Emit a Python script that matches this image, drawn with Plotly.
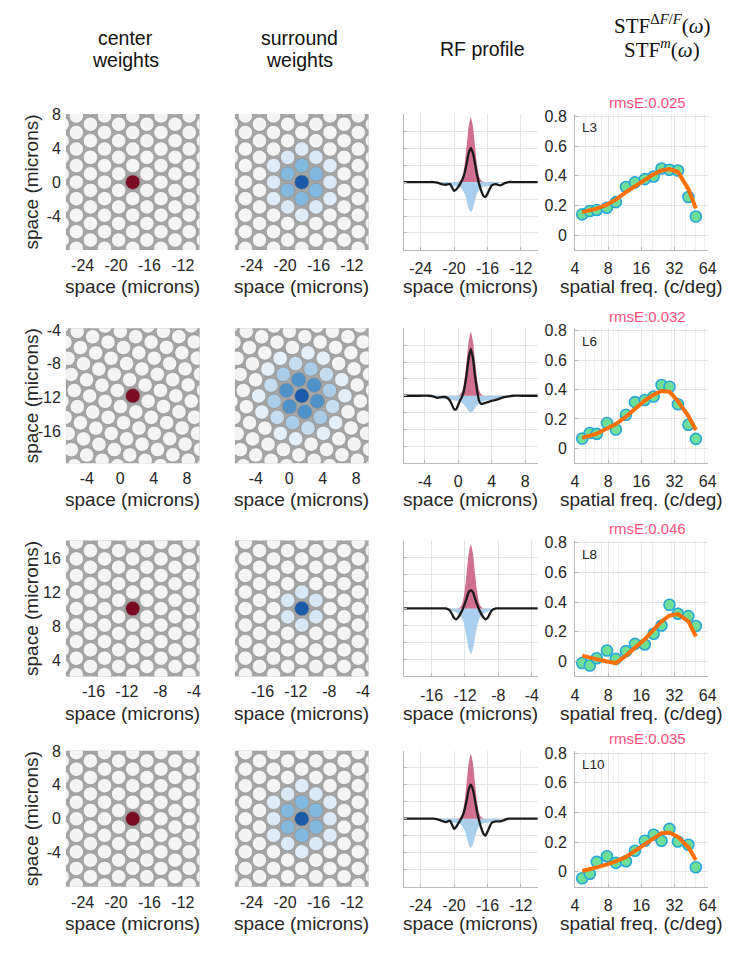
import math
import plotly.graph_objects as go

W, H = 755, 962
FONT = "Liberation Sans, Arial, Helvetica, sans-serif"
SERIF = "Liberation Serif, DejaVu Serif, serif"
TXT = "#262626"

# ------------------------------------------------------------------ data
row_labels = ["L3", "L6", "L8", "L10"]
rmse_text = ["0.025", "0.032", "0.046", "0.035"]

# cone of interest (microns) per row
cone_x = [-18.0, 1.5, -11.3, -18.0]
cone_y = [0.0, -11.8, 10.1, 0.0]
space_xticks = [[-24, -20, -16, -12], [-4, 0, 4, 8], [-16, -12, -8, -4], [-24, -20, -16, -12]]
space_yticks = [[-4, 0, 4, 8], [-16, -12, -8, -4], [4, 8, 12, 16], [-4, 0, 4, 8]]
half_width = 8.0

# mosaic description
cone_spacing = 1.95
lattice_rotation_deg = [0, 11, 0, 0]
ring_dist = [0, 1, 1.732, 2, 2.646]
surround_ring_weight = [
    [1.0, 0.55, 0.12, 0.10, 0.0],
    [1.0, 0.78, 0.38, 0.24, 0.07],
    [1.0, 0.14, 0.0, 0.0, 0.0],
    [1.0, 0.55, 0.12, 0.10, 0.0],
]

# RF profiles (offset from cone centre, microns)
rf_dx = [-9, -6, -5, -4.5, -4, -3.5, -3, -2.5, -2, -1.75, -1.5, -1.25, -1, -0.75, -0.5, -0.25, 0,
         0.25, 0.5, 0.75, 1, 1.25, 1.5, 1.75, 2, 2.5, 3, 3.5, 4, 4.5, 5, 6, 9]
rf_center = [
    [0, 0, 0, 0, 0, 0, 0, 0, 0, 0, 0.004, 0.02, 0.08, 0.25, 0.53, 0.82, 0.95, 0.82, 0.53, 0.25, 0.08, 0.02, 0.004, 0, 0, 0, 0, 0, 0, 0, 0, 0, 0],
    [0, 0, 0, 0, 0, 0, 0, 0, 0, 0, 0.004, 0.02, 0.08, 0.25, 0.52, 0.81, 0.945, 0.81, 0.52, 0.25, 0.08, 0.02, 0.004, 0, 0, 0, 0, 0, 0, 0, 0, 0, 0],
    [0, 0, 0, 0, 0, 0, 0, 0, 0, 0, 0.004, 0.02, 0.08, 0.25, 0.52, 0.81, 0.94, 0.81, 0.52, 0.25, 0.08, 0.02, 0.004, 0, 0, 0, 0, 0, 0, 0, 0, 0, 0],
    [0, 0, 0, 0, 0, 0, 0, 0, 0, 0, 0.004, 0.02, 0.08, 0.25, 0.53, 0.82, 0.95, 0.82, 0.53, 0.25, 0.08, 0.02, 0.004, 0, 0, 0, 0, 0, 0, 0, 0, 0, 0],
]
rf_surround = [
    [0, 0, 0, 0, 0, -0.01, -0.03, -0.05, -0.06, -0.065, -0.07, -0.08, -0.11, -0.17, -0.27, -0.39, -0.44, -0.39, -0.27, -0.17, -0.11, -0.08, -0.07, -0.065, -0.06, -0.05, -0.03, -0.01, 0, 0, 0, 0, 0],
    [0, 0, -0.01, -0.02, -0.03, -0.04, -0.05, -0.06, -0.07, -0.075, -0.08, -0.09, -0.11, -0.14, -0.18, -0.23, -0.25, -0.23, -0.18, -0.14, -0.11, -0.09, -0.08, -0.075, -0.07, -0.06, -0.05, -0.04, -0.03, -0.02, -0.01, 0, 0],
    [0, 0, 0, 0, 0, 0, 0, -0.02, -0.05, -0.06, -0.08, -0.11, -0.16, -0.27, -0.43, -0.60, -0.67, -0.60, -0.43, -0.27, -0.16, -0.11, -0.08, -0.06, -0.05, -0.02, 0, 0, 0, 0, 0, 0, 0],
    [0, 0, 0, 0, 0, -0.01, -0.03, -0.05, -0.06, -0.065, -0.07, -0.08, -0.11, -0.17, -0.27, -0.38, -0.43, -0.38, -0.27, -0.17, -0.11, -0.08, -0.07, -0.065, -0.06, -0.05, -0.03, -0.01, 0, 0, 0, 0, 0],
]
rf_total = [
    [0, 0, 0, 0, -0.01, -0.03, -0.04, -0.03, -0.13, -0.11, -0.07, -0.02, 0.04, 0.13, 0.27, 0.43, 0.50, 0.43, 0.27, 0.10, -0.03, -0.13, -0.20, -0.22, -0.17, -0.05, -0.03, -0.05, -0.02, 0, 0, 0, 0],
    [0, 0, 0, -0.01, -0.03, -0.02, -0.02, -0.07, -0.20, -0.20, -0.13, -0.06, 0.0, 0.12, 0.32, 0.56, 0.69, 0.56, 0.30, 0.08, -0.08, -0.12, -0.115, -0.105, -0.095, -0.075, -0.06, -0.04, -0.02, -0.01, 0, 0, 0],
    [0, 0, 0, 0, 0, 0, 0, -0.03, -0.14, -0.16, -0.13, -0.08, -0.02, 0.06, 0.15, 0.24, 0.27, 0.24, 0.15, 0.06, -0.02, -0.08, -0.13, -0.16, -0.14, -0.03, 0, 0, 0, 0, 0, 0, 0],
    [0, 0, 0, 0, -0.01, -0.03, -0.05, -0.03, -0.15, -0.12, -0.07, -0.02, 0.04, 0.13, 0.27, 0.43, 0.50, 0.43, 0.27, 0.10, -0.03, -0.14, -0.22, -0.25, -0.19, -0.06, -0.04, -0.04, -0.02, 0, 0, 0, 0],
]

# spatial transfer functions
stf_freq = [4.65, 5.45, 6.3, 7.8, 9.4, 11.6, 14.0, 17.2, 20.7, 24.4, 28.8, 34.4, 42.8, 50.0]
stf_meas = [
    [0.14, 0.162, 0.169, 0.184, 0.222, 0.324, 0.355, 0.377, 0.395, 0.449, 0.44, 0.435, 0.257, 0.125],
    [0.067, 0.105, 0.099, 0.173, 0.128, 0.229, 0.314, 0.329, 0.352, 0.43, 0.419, 0.30, 0.161, 0.065],
    [-0.01, -0.027, 0.022, 0.074, 0.018, 0.07, 0.119, 0.115, 0.187, 0.243, 0.382, 0.322, 0.306, 0.239],
    [-0.044, -0.013, 0.067, 0.105, 0.06, 0.071, 0.142, 0.209, 0.249, 0.209, 0.289, 0.204, 0.182, 0.031],
]
stf_err = [
    [0.012, 0.012, 0.012, 0.012, 0.012, 0.012, 0.012, 0.012, 0.012, 0.012, 0.012, 0.012, 0.015, 0.015],
    [0.025, 0.025, 0.02, 0.03, 0.025, 0.025, 0.025, 0.025, 0.025, 0.025, 0.03, 0.03, 0.03, 0.03],
    [0.03, 0.03, 0.03, 0.035, 0.03, 0.03, 0.03, 0.03, 0.035, 0.035, 0.04, 0.04, 0.04, 0.04],
    [0.025, 0.025, 0.03, 0.03, 0.03, 0.03, 0.03, 0.03, 0.03, 0.03, 0.03, 0.03, 0.03, 0.035],
]
stf_model = [
    [0.155, 0.165, 0.178, 0.205, 0.24, 0.29, 0.33, 0.375, 0.41, 0.435, 0.445, 0.425, 0.31, 0.18],
    [0.072, 0.085, 0.10, 0.135, 0.165, 0.215, 0.27, 0.325, 0.365, 0.39, 0.385, 0.32, 0.22, 0.125],
    [0.04, 0.03, 0.015, 0.0, -0.01, 0.04, 0.09, 0.15, 0.215, 0.27, 0.31, 0.32, 0.27, 0.17],
    [0.005, 0.015, 0.03, 0.05, 0.07, 0.10, 0.14, 0.185, 0.23, 0.26, 0.265, 0.235, 0.165, 0.08],
]
stf_xticks = [4, 8, 16, 32, 64]
stf_yticks = [0, 0.2, 0.4, 0.6, 0.8]

# ------------------------------------------------------------------ layout geometry (px)
col_px = [(63, 199), (235, 371), (407, 543), (581, 716)]
row_px = [(107, 244), (323, 459), (537, 674), (749, 886)]


def xdom(c):
    a, b = col_px[c]
    return [a / W, b / W]


def ydom(r):
    t, b = row_px[r]
    return [1 - b / H, 1 - t / H]


def py(v):
    return 1 - v / H


def lbl(v):
    return str(v).replace("\u2212", "-")


fig = go.Figure()
layout = dict(width=W, height=H, margin=dict(l=0, r=0, t=0, b=0), autosize=False,
              paper_bgcolor="white", plot_bgcolor="white", showlegend=False,
              font=dict(family=FONT, color=TXT, size=16))
shapes = []
annotations = []

blues = [[0.0, "#f4f4f4"], [0.05, "#e8f1f9"], [0.15, "#d5e6f4"], [0.35, "#b0d1ea"],
         [0.55, "#82b8de"], [0.78, "#4f92c9"], [1.0, "#1b5aa8"]]


def lattice(r):
    d = cone_spacing
    th = math.radians(lattice_rotation_deg[r])
    pts = []
    for i in range(-9, 10):
        for j in range(-9, 10):
            px_ = j * d * math.sqrt(3) / 2
            py_ = i * d + j * d / 2
            rx = px_ * math.cos(th) - py_ * math.sin(th)
            ry = px_ * math.sin(th) + py_ * math.cos(th)
            if abs(rx) < half_width + 1.2 and abs(ry) < half_width + 1.2:
                pts.append((rx, ry))
    return pts


def ring_weight(r, dist):
    for rd, w in zip(ring_dist, surround_ring_weight[r]):
        if abs(dist - rd) < 0.12:
            return w
    return 0.0


def note(text, x, y, size, color=TXT, family=FONT, **kw):
    annotations.append(dict(text=text, xref="paper", yref="paper", x=x / W, y=py(y),
                            xanchor="center", yanchor="middle", showarrow=False,
                            font=dict(size=size, color=color, family=family), **kw))


for r in range(4):
    cx, cy = cone_x[r], cone_y[r]
    for c in range(4):
        idx = r * 4 + c + 1
        xa = "xaxis" if idx == 1 else f"xaxis{idx}"
        ya = "yaxis" if idx == 1 else f"yaxis{idx}"
        xr = "x" if idx == 1 else f"x{idx}"
        yr = "y" if idx == 1 else f"y{idx}"
        base_x = dict(domain=xdom(c), anchor=yr, zeroline=False, showgrid=False,
                      tickfont=dict(size=16, color=TXT, family=FONT), ticklabelstandoff=4)
        base_y = dict(domain=ydom(r), anchor=xr, zeroline=False, showgrid=False,
                      tickfont=dict(size=16, color=TXT, family=FONT))
        if c < 2:
            pts = lattice(r)
            xs = [cx + p[0] for p in pts]
            ys = [cy + p[1] for p in pts]
            if c == 0:
                cols = ["#7a0b22" if (abs(p[0]) < 1e-6 and abs(p[1]) < 1e-6) else "#f4f4f4" for p in pts]
                marker = dict(size=14.5, color=cols, line=dict(color="#8f8f8f", width=0.7))
            else:
                w = [ring_weight(r, math.hypot(p[0], p[1]) / cone_spacing) for p in pts]
                marker = dict(size=14.5, color=w, colorscale=blues, cmin=0, cmax=1,
                              line=dict(color="#8f8f8f", width=0.7))
            fig.add_trace(go.Scatter(x=xs, y=ys, mode="markers", marker=marker,
                                     xaxis=xr, yaxis=yr, hoverinfo="skip"))
            shapes.append(dict(type="rect", xref=f"{xr} domain", yref=f"{yr} domain",
                               x0=0, x1=1, y0=0, y1=1, fillcolor="#a6a6a6",
                               line=dict(width=0), layer="below"))
            layout[xa] = dict(base_x, range=[cx - half_width, cx + half_width],
                              tickvals=space_xticks[r], ticktext=[lbl(v) for v in space_xticks[r]],
                              ticks="", showline=False)
            layout[ya] = dict(base_y, range=[cy - half_width, cy + half_width + 0.02],
                              tickvals=space_yticks[r], ticktext=[lbl(v) for v in space_yticks[r]],
                              ticks="", showline=False,
                              showticklabels=(c == 0), ticklabelstandoff=4)
        elif c == 2:
            xs = [cx + d for d in rf_dx]
            fig.add_trace(go.Scatter(x=xs, y=rf_surround[r], mode="lines", fill="tozeroy",
                                     fillcolor="#a9cfec", line=dict(width=0, shape="spline", smoothing=0.6),
                                     xaxis=xr, yaxis=yr, hoverinfo="skip"))
            fig.add_trace(go.Scatter(x=xs, y=rf_center[r], mode="lines", fill="tozeroy",
                                     fillcolor="#d16f8f", line=dict(width=0, shape="spline", smoothing=0.6),
                                     xaxis=xr, yaxis=yr, hoverinfo="skip"))
            fig.add_trace(go.Scatter(x=xs, y=rf_total[r], mode="lines",
                                     line=dict(width=2.3, color="#1a1a1a", shape="spline", smoothing=0.6),
                                     xaxis=xr, yaxis=yr, hoverinfo="skip"))
            layout[xa] = dict(base_x, range=[cx - half_width, cx + half_width],
                              tickvals=space_xticks[r], ticktext=[lbl(v) for v in space_xticks[r]],
                              showgrid=True, gridcolor="#e4e4e4",
                              showline=True, linecolor="#b8b8b8", ticks="inside", ticklen=3,
                              tickcolor="#b8b8b8")
            layout[ya] = dict(base_y, range=[-1, 1], tickvals=[-1, -0.75, -0.5, -0.25, 0, 0.25, 0.5, 0.75, 1],
                              showticklabels=False, showgrid=True, gridcolor="#e4e4e4",
                              showline=True, linecolor="#b8b8b8", ticks="inside", ticklen=3,
                              tickcolor="#b8b8b8")
        else:
            fig.add_trace(go.Scatter(x=stf_freq, y=stf_meas[r], mode="markers",
                                     marker=dict(size=11, color="#6fdf98",
                                                 line=dict(color="#27a6d8", width=1.6)),
                                     error_y=dict(type="data", array=stf_err[r], color="#111111",
                                                  thickness=1.6, width=0),
                                     xaxis=xr, yaxis=yr, hoverinfo="skip"))
            fig.add_trace(go.Scatter(x=stf_freq, y=stf_model[r], mode="lines",
                                     line=dict(color="#ff6f00", width=4),
                                     xaxis=xr, yaxis=yr, hoverinfo="skip"))
            layout[xa] = dict(base_x, type="log", range=[math.log10(4), math.log10(64)],
                              tickvals=stf_xticks, ticktext=[str(v) for v in stf_xticks],
                              showgrid=True, gridcolor="#e4e4e4", showline=True,
                              linecolor="#b8b8b8", ticks="inside", ticklen=3, tickcolor="#b8b8b8",
                              minor=dict(tickvals=[5, 6, 7, 9, 10, 20, 30, 40, 50, 60],
                                         showgrid=True, gridcolor="#efefef", ticks=""))
            layout[ya] = dict(base_y, range=[-0.1, 0.815], tickvals=stf_yticks,
                              ticktext=["0", "0.2", "0.4", "0.6", "0.8"], showgrid=True,
                              gridcolor="#e4e4e4", showline=True, linecolor="#b8b8b8",
                              ticks="inside", ticklen=3, tickcolor="#b8b8b8", ticklabelstandoff=4)
            annotations.append(dict(text=row_labels[r], xref=f"{xr} domain", yref=f"{yr} domain",
                                    x=0.04, y=0.9, xanchor="left", yanchor="middle",
                                    showarrow=False, font=dict(size=13.5, color=TXT, family=FONT)))
            note(f"rmsE:{rmse_text[r]}", 655, row_px[r][0] - 12, 15, color="#ff4f7c")
        # axis titles
        xt = "spatial freq. (c/deg)" if c == 3 else "space (microns)"
        xc = (col_px[c][0] + col_px[c][1]) / 2
        note(xt, xc, row_px[r][1] + 37, 19)
    note("space (microns)", 28, (row_px[r][0] + row_px[r][1]) / 2, 19, textangle=-90)

# column headers
note("center", 124, 30, 19.5, color="#111111")
note("weights", 124, 52, 19.5, color="#111111")
note("surround", 301, 30, 19.5, color="#111111")
note("weights", 301, 52, 19.5, color="#111111")
note("RF profile", 487, 41, 19.5, color="#111111")
note("STF<sup>\u0394<i>F</i>/<i>F</i></sup>(<i>\u03c9</i>)", 670, 17, 21, color="#111111", family=SERIF)
note("STF<sup><i>m</i></sup>(<i>\u03c9</i>)", 670, 41, 21, color="#111111", family=SERIF)

layout["shapes"] = shapes
layout["annotations"] = annotations
fig.update_layout(**layout)
fig.write_html("out.html", config={"displayModeBar": False},
               post_script="document.body.style.margin='0';document.body.style.overflow='hidden';")
